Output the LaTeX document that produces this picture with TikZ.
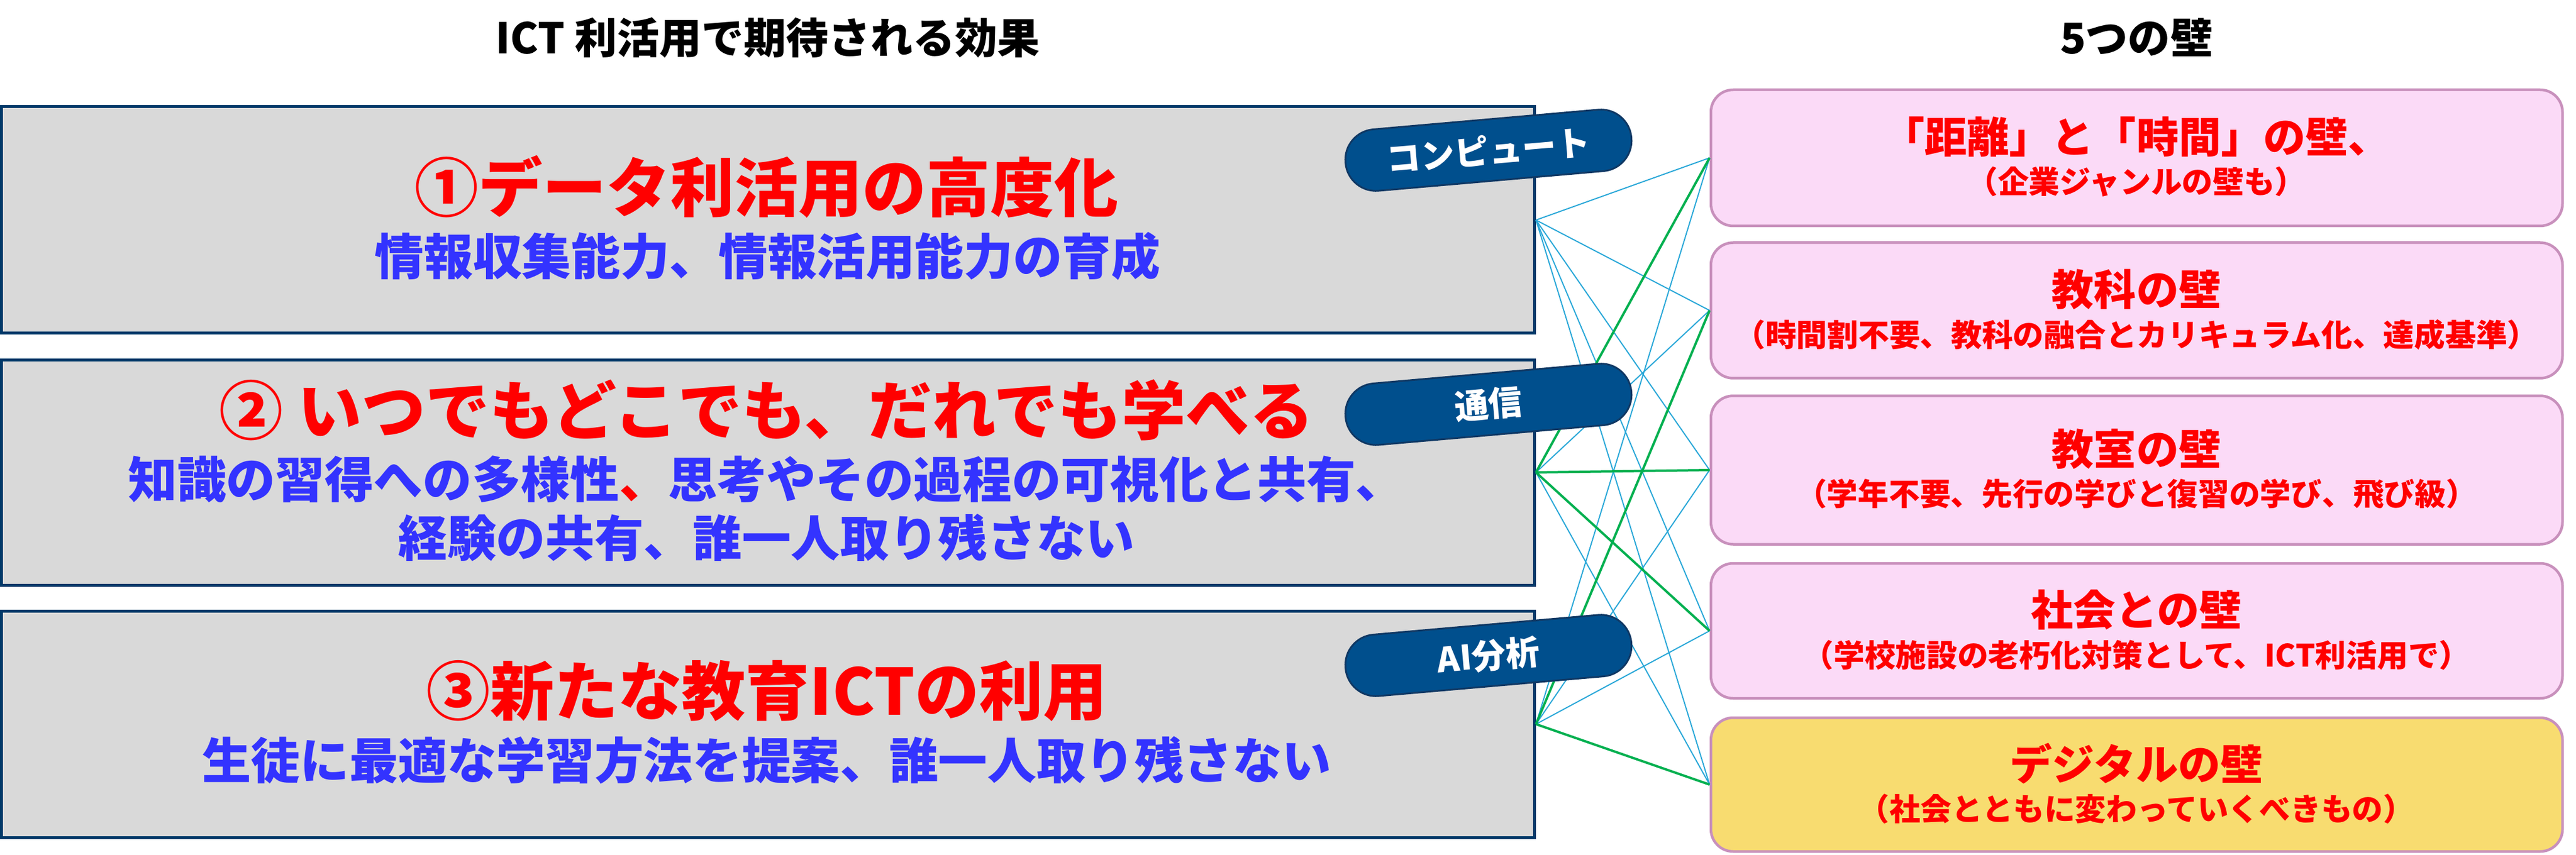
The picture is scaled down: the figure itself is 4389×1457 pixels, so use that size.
\documentclass[tikz,border=0pt]{standalone}
\usepackage{fontspec}
\setmainfont{Noto Sans CJK JP}
\usepackage{xcolor}
\usepackage{tikz}

\definecolor{navyline}{RGB}{0,56,104}
\definecolor{boxgray}{RGB}{217,217,217}
\definecolor{titlered}{RGB}{255,0,0}
\definecolor{textblue}{RGB}{51,51,255}
\definecolor{wallpink}{RGB}{251,218,247}
\definecolor{wallline}{RGB}{200,144,188}
\definecolor{wallyellow}{RGB}{248,220,112}
\definecolor{pillblue}{RGB}{0,79,141}
\definecolor{pillline}{RGB}{15,56,100}
\definecolor{linkcyan}{RGB}{43,168,216}
\definecolor{linkgreen}{RGB}{0,176,80}

\begin{document}
\begin{tikzpicture}[x=0.1mm,y=-0.1mm,
    heading/.style={font=\fontsize{20.5}{22}\selectfont\bfseries},
    effectbox/.style={draw=navyline,line width=0.5mm,fill=boxgray,minimum width=261.2mm,inner sep=0pt},
    effecttitle/.style={text=titlered,font=\fontsize{31}{34}\selectfont\bfseries},
    effectnote/.style={text=textblue,font=\fontsize{23.8}{26}\selectfont\bfseries},
    wallbox/.style={draw=wallline,line width=0.45mm,fill=wallpink,rounded corners=3.8mm,minimum width=145.1mm,inner sep=0pt},
    walltitle/.style={text=titlered,font=\fontsize{20.5}{22}\selectfont\bfseries},
    wallnote/.style={text=titlered,font=\fontsize{15}{17}\selectfont\bfseries},
    tagpill/.style={draw=pillline,line width=0.3mm,fill=pillblue,rounded corners=5.2mm,minimum width=48.9mm,minimum height=10.5mm,inner sep=0pt,rotate=5,text=white,font=\fontsize{16.5}{18}\selectfont\bfseries},
    thinlink/.style={draw=linkcyan,line width=0.2mm},
    thicklink/.style={draw=linkgreen,line width=0.4mm}]
  \useasboundingbox (0,0) rectangle (4389,1457);

  % headings
  \node[heading] (effhead) at (1308,64) {ICT 利活用で期待される効果};
  \node[heading] (wallhead) at (3640,64) {5つの壁};

  % left: effects
  \node[effectbox,minimum height=38.6mm] (eff1) at (1308.5,375) {};
  \node[effectbox,minimum height=38.4mm] (eff2) at (1308.5,805) {};
  \node[effectbox,minimum height=38.6mm] (eff3) at (1308.5,1234) {};

  \node[effecttitle] (eff1title) at (1306,318) {①データ利活用の高度化};
  \node[effectnote] (eff1note) at (1308,437) {情報収集能力、情報活用能力の育成};
  \node[effecttitle] (eff2title) at (1306,699) {② いつでもどこでも、だれでも学べる};
  \node[effectnote] (eff2note) at (1306,817) {知識の習得への多様性{\color{titlered}、}思考やその過程の可視化と共有、};
  \node[effectnote] (eff2more) at (1306,916) {経験の共有、誰一人取り残さない};
  \node[effecttitle] (eff3title) at (1306,1177) {③新たな教育ICTの利用};
  \node[effectnote] (eff3note) at (1306,1296) {生徒に最適な学習方法を提案、誰一人取り残さない};

  % right: walls
  \node[wallbox,minimum height=23.2mm] (wall1) at (3640.5,269) {};
  \node[wallbox,minimum height=23.1mm] (wall2) at (3640.5,529) {};
  \node[wallbox,minimum height=25.3mm] (wall3) at (3640.5,801) {};
  \node[wallbox,minimum height=23.0mm] (wall4) at (3640.5,1075) {};
  \node[wallbox,minimum height=22.8mm,fill=wallyellow] (wall5) at (3640.5,1337) {};

  \node[walltitle] (wall1title) at (3640,233) {「距離」と「時間」の壁、};
  \node[wallnote] (wall1note) at (3640,310) {（企業ジャンルの壁も）};
  \node[walltitle] (wall2title) at (3640,493) {教科の壁};
  \node[wallnote] (wall2note) at (3640,570) {（時間割不要、教科の融合とカリキュラム化、達成基準）};
  \node[walltitle] (wall3title) at (3640,765) {教室の壁};
  \node[wallnote] (wall3note) at (3640,842) {（学年不要、先行の学びと復習の学び、飛び級）};
  \node[walltitle] (wall4title) at (3640,1039) {社会との壁};
  \node[wallnote] (wall4note) at (3640,1116) {（学校施設の老朽化対策として、ICT利活用で）};
  \node[walltitle] (wall5title) at (3640,1301) {デジタルの壁};
  \node[wallnote] (wall5note) at (3640,1378) {（社会とともに変わっていくべきもの）};

  % links
  \draw[thinlink] (eff1.east) -- (wall1.west);
  \draw[thinlink] (eff1.east) -- (wall2.west);
  \draw[thinlink] (eff1.east) -- (wall3.west);
  \draw[thinlink] (eff1.east) -- (wall4.west);
  \draw[thinlink] (eff1.east) -- (wall5.west);
  \draw[thinlink] (eff2.east) -- (wall2.west);
  \draw[thinlink] (eff2.east) -- (wall5.west);
  \draw[thinlink] (eff3.east) -- (wall1.west);
  \draw[thinlink] (eff3.east) -- (wall3.west);
  \draw[thinlink] (eff3.east) -- (wall4.west);
  \draw[thicklink] (eff2.east) -- (wall1.west);
  \draw[thicklink] (eff2.east) -- (wall3.west);
  \draw[thicklink] (eff2.east) -- (wall4.west);
  \draw[thicklink] (eff3.east) -- (wall2.west);
  \draw[thicklink] (eff3.east) -- (wall5.west);

  % tags
  \node[tagpill] (tagcompute) at (2536,256) {コンピュート};
  \node[tagpill] (tagnet) at (2536,689) {通信};
  \node[tagpill] (tagai) at (2536,1117) {AI分析};
\end{tikzpicture}
\end{document}
